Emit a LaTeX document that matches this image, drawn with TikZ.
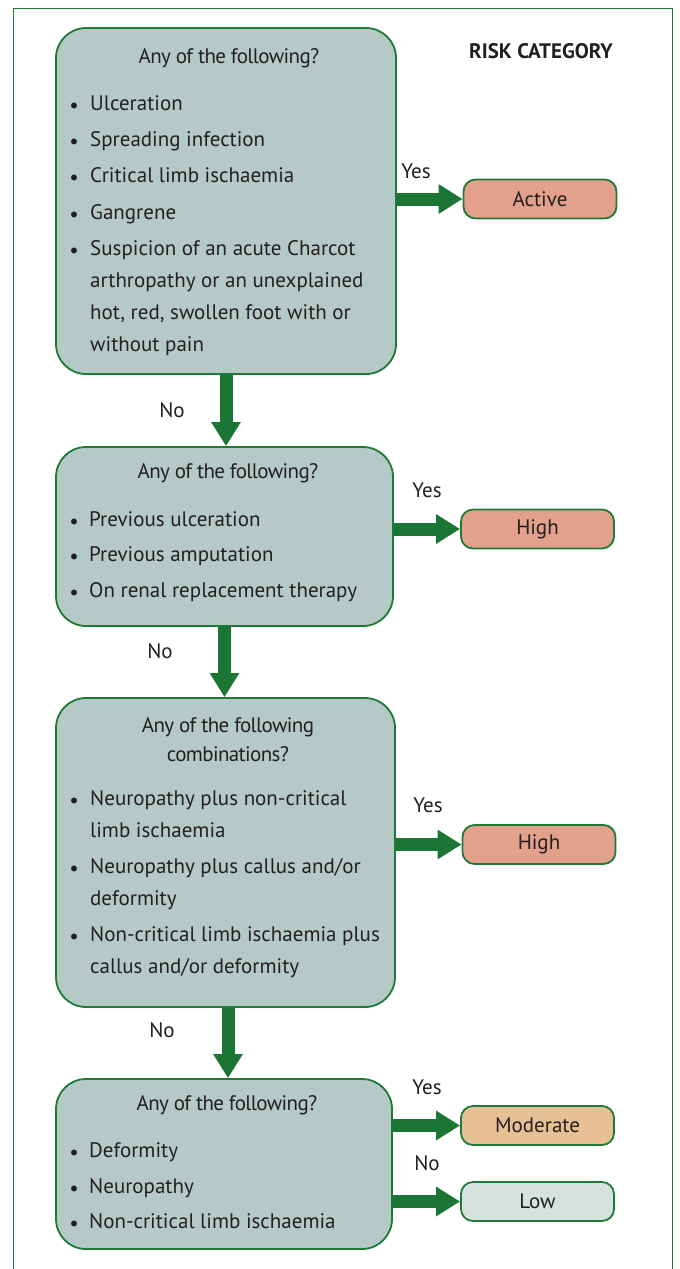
\documentclass[tikz,border=0pt]{standalone}
\usepackage{fontspec}
\setmainfont{PT Sans}
\usetikzlibrary{arrows.meta}
\definecolor{frame}{HTML}{1E7A36}
\definecolor{arr}{HTML}{1B7534}
\definecolor{boxfill}{HTML}{B5CAC6}
\definecolor{hot}{HTML}{E3A08A}
\definecolor{mod}{HTML}{E8C096}
\definecolor{low}{HTML}{D6E2E0}
\definecolor{ink}{HTML}{231F20}
\tikzset{
  qbox/.style={draw=frame, line width=1.8pt, fill=boxfill, rounded corners=30pt, inner sep=0pt},
  rbox/.style={draw=frame, line width=1.8pt, rounded corners=12pt, inner sep=0pt, minimum width=153pt, minimum height=39pt, font=\fontsize{21}{24}\selectfont, text=ink},
  head/.style={font=\fontsize{21}{24}\selectfont\addfontfeatures{LetterSpace=-3}, text=ink, inner sep=0pt, yshift=-3pt},
  item/.style={font=\fontsize{21}{24}\selectfont, text=ink, inner sep=0pt, anchor=mid west, yshift=-4.5pt},
  bul/.style={font=\fontsize{21}{24}\selectfont, text=ink, inner sep=0pt, yshift=-4.5pt},
  lab/.style={font=\fontsize{21}{24}\selectfont, text=ink, inner sep=0pt},
  flow/.style={draw=arr, line width=13pt, -{Triangle[width=28pt,length=24pt]}},
}
\begin{document}
\begin{tikzpicture}[x=1pt,y=-1pt]
\useasboundingbox (0,0) rectangle (680,1269);
\draw[frame, line width=1pt] (13,1269) -- (13,8) -- (672,8) -- (672,1269);
\node[font=\bfseries\fontsize{21}{24}\selectfont, text=ink, inner sep=0pt] (risk) at (541,51) {RISK CATEGORY};

% boxes
\node[qbox, minimum width=340pt, minimum height=346pt] (q1) at (226,201) {};
\node[qbox, minimum width=337pt, minimum height=179pt] (q2) at (224.5,536.5) {};
\node[qbox, minimum width=339pt, minimum height=309pt] (q3) at (225.5,852.5) {};
\node[qbox, minimum width=336pt, minimum height=170pt] (q4) at (224,1164) {};

\node[rbox, fill=hot] (r1) at (540,199) {Active};
\node[rbox, fill=hot] (r2) at (537.5,529) {High};
\node[rbox, fill=hot] (r3) at (539,844.5) {High};
\node[rbox, fill=mod] (r4) at (537.5,1125.5) {Moderate};
\node[rbox, fill=low] (r5) at (537.5,1201.5) {Low};

% box 1 text
\node[head] (h1) at (229,55) {Any of the following?};
\foreach \y in {103,139,175,212,248} \node[bul] at (74,\y) {\textbullet};
\node[item] (i11) at (90,103) {Ulceration};
\node[item] (i12) at (90,139) {Spreading infection};
\node[item] (i13) at (90,175) {Critical limb ischaemia};
\node[item] (i14) at (90,212) {Gangrene};
\node[item] (i15a) at (90,248) {Suspicion of an acute Charcot};
\node[item] (i15b) at (90,280) {arthropathy or an unexplained};
\node[item] (i15c) at (90,312) {hot, red, swollen foot with or};
\node[item] (i15d) at (90,344) {without pain};

% box 2 text
\node[head] (h2) at (228,470) {Any of the following?};
\foreach \y in {519,554,590} \node[bul] at (74,\y) {\textbullet};
\node[item] (i21) at (89,519) {Previous ulceration};
\node[item] (i22) at (89,554) {Previous amputation};
\node[item] (i23) at (89,590) {On renal replacement therapy};

% box 3 text
\node[head] (h3a) at (228,724) {Any of the following};
\node[head] (h3b) at (228,751) {combinations?};
\foreach \y in {798,866,934} \node[bul] at (74,\y) {\textbullet};
\node[item] (i31a) at (90,798) {Neuropathy plus non-critical};
\node[item] (i31b) at (90,830) {limb ischaemia};
\node[item] (i32a) at (90,866) {Neuropathy plus callus and/or};
\node[item] (i32b) at (90,898) {deformity};
\node[item] (i33a) at (90,934) {Non-critical limb ischaemia plus};
\node[item] (i33b) at (90,966) {callus and/or deformity};

% box 4 text
\node[head] (h4) at (227,1102) {Any of the following?};
\foreach \y in {1150,1186,1221} \node[bul] at (74,\y) {\textbullet};
\node[item] (i41) at (89,1150) {Deformity};
\node[item] (i42) at (89,1186) {Neuropathy};
\node[item] (i43) at (89,1221) {Non-critical limb ischaemia};

% arrows
\draw[flow] (q1.east |- r1.west) -- (r1.west);
\draw[flow] (q2.east |- r2.west) -- (r2.west);
\draw[flow] (q3.east |- r3.west) -- (r3.west);
\draw[flow] (q4.east |- r4.west) -- (r4.west);
\draw[flow] (q4.east |- r5.west) -- (r5.west);
\draw[flow] (q1.south) -- (q1.south |- q2.north);
\draw[flow] (q2.south) -- (q2.south |- q3.north);
\draw[flow] ([xshift=2.5pt]q3.south) -- ([xshift=2.5pt]q3.south |- q4.north);

% labels
\node[lab] (y1) at (416,171) {Yes};
\node[lab] (y2) at (427,490) {Yes};
\node[lab] (y3) at (428,805) {Yes};
\node[lab] (y4) at (427,1087) {Yes};
\node[lab] (n4) at (427,1163) {No};
\node[lab] (n1) at (172,410) {No};
\node[lab] (n2) at (160,651) {No};
\node[lab] (n3) at (162,1030) {No};
\end{tikzpicture}
\end{document}
